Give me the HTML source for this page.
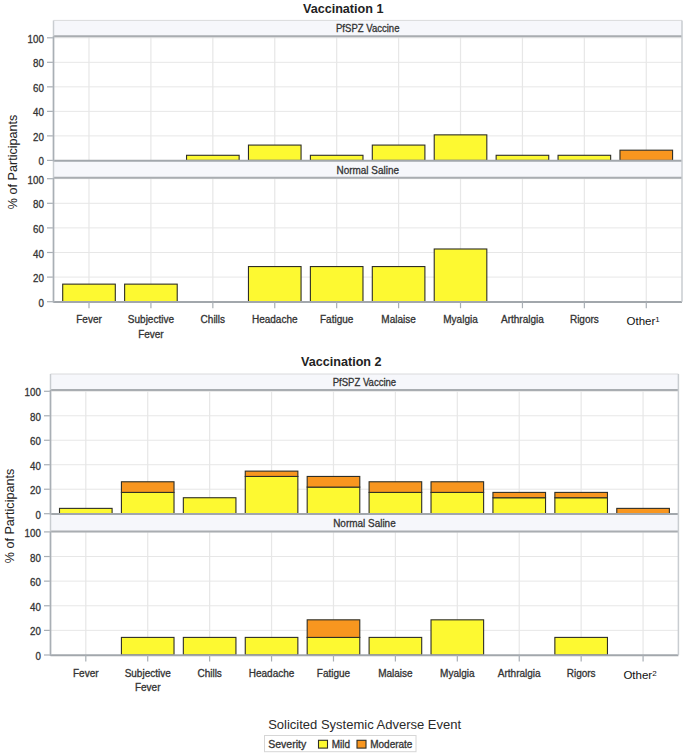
<!DOCTYPE html>
<html><head><meta charset="utf-8"><style>
html,body{margin:0;padding:0;background:#fff;}
body{width:685px;height:756px;overflow:hidden;}
svg{display:block;font-family:"Liberation Sans",sans-serif;}
</style></head><body>
<svg width="685" height="756" viewBox="0 0 685 756">
<rect x="0" y="0" width="685" height="756" fill="#ffffff"/>
<text x="343.20" y="12.60" font-size="13" text-anchor="middle" font-weight="bold" fill="#222" textLength="80.5" lengthAdjust="spacingAndGlyphs">Vaccination 1</text>
<text transform="translate(17.20,161.90) rotate(-90)" x="0" y="0" font-size="12.6" text-anchor="middle" fill="#222">% of Participants</text>
<rect x="53.50" y="20.40" width="628.50" height="15.90" fill="#f6f7fb"/>
<rect x="53.50" y="36.30" width="628.50" height="124.10" fill="#ffffff"/>
<rect x="53.50" y="160.40" width="628.50" height="17.40" fill="#f6f7fb"/>
<rect x="53.50" y="177.80" width="628.50" height="123.90" fill="#ffffff"/>
<text x="367.75" y="32.10" font-size="10.5" text-anchor="middle" font-weight="normal" fill="#333333" stroke="#333333" stroke-width="0.3" textLength="63.5" lengthAdjust="spacingAndGlyphs">PfSPZ Vaccine</text>
<line x1="53.50" y1="135.88" x2="682.00" y2="135.88" stroke="#e7e7e7" stroke-width="1"/>
<line x1="53.50" y1="111.36" x2="682.00" y2="111.36" stroke="#e7e7e7" stroke-width="1"/>
<line x1="53.50" y1="86.84" x2="682.00" y2="86.84" stroke="#e7e7e7" stroke-width="1"/>
<line x1="53.50" y1="62.32" x2="682.00" y2="62.32" stroke="#e7e7e7" stroke-width="1"/>
<line x1="53.50" y1="37.80" x2="682.00" y2="37.80" stroke="#e7e7e7" stroke-width="1"/>
<line x1="89.00" y1="36.30" x2="89.00" y2="160.40" stroke="#e7e7e7" stroke-width="1.2"/>
<line x1="150.92" y1="36.30" x2="150.92" y2="160.40" stroke="#e7e7e7" stroke-width="1.2"/>
<line x1="212.84" y1="36.30" x2="212.84" y2="160.40" stroke="#e7e7e7" stroke-width="1.2"/>
<line x1="274.76" y1="36.30" x2="274.76" y2="160.40" stroke="#e7e7e7" stroke-width="1.2"/>
<line x1="336.68" y1="36.30" x2="336.68" y2="160.40" stroke="#e7e7e7" stroke-width="1.2"/>
<line x1="398.60" y1="36.30" x2="398.60" y2="160.40" stroke="#e7e7e7" stroke-width="1.2"/>
<line x1="460.52" y1="36.30" x2="460.52" y2="160.40" stroke="#e7e7e7" stroke-width="1.2"/>
<line x1="522.44" y1="36.30" x2="522.44" y2="160.40" stroke="#e7e7e7" stroke-width="1.2"/>
<line x1="584.36" y1="36.30" x2="584.36" y2="160.40" stroke="#e7e7e7" stroke-width="1.2"/>
<line x1="646.28" y1="36.30" x2="646.28" y2="160.40" stroke="#e7e7e7" stroke-width="1.2"/>
<rect x="186.54" y="155.29" width="52.60" height="5.11" fill="#fdf931" stroke="#2e2e26" stroke-width="1.1"/>
<rect x="248.46" y="145.08" width="52.60" height="15.32" fill="#fdf931" stroke="#2e2e26" stroke-width="1.1"/>
<rect x="310.38" y="155.29" width="52.60" height="5.11" fill="#fdf931" stroke="#2e2e26" stroke-width="1.1"/>
<rect x="372.30" y="145.08" width="52.60" height="15.32" fill="#fdf931" stroke="#2e2e26" stroke-width="1.1"/>
<rect x="434.22" y="134.86" width="52.60" height="25.54" fill="#fdf931" stroke="#2e2e26" stroke-width="1.1"/>
<rect x="496.14" y="155.29" width="52.60" height="5.11" fill="#fdf931" stroke="#2e2e26" stroke-width="1.1"/>
<rect x="558.06" y="155.29" width="52.60" height="5.11" fill="#fdf931" stroke="#2e2e26" stroke-width="1.1"/>
<rect x="619.98" y="150.18" width="52.60" height="10.22" fill="#f8961f" stroke="#2e2e26" stroke-width="1.1"/>
<text x="367.75" y="173.60" font-size="10.5" text-anchor="middle" font-weight="normal" fill="#333333" stroke="#333333" stroke-width="0.3" textLength="62.5" lengthAdjust="spacingAndGlyphs">Normal Saline</text>
<line x1="53.50" y1="277.10" x2="682.00" y2="277.10" stroke="#e7e7e7" stroke-width="1"/>
<line x1="53.50" y1="252.50" x2="682.00" y2="252.50" stroke="#e7e7e7" stroke-width="1"/>
<line x1="53.50" y1="227.90" x2="682.00" y2="227.90" stroke="#e7e7e7" stroke-width="1"/>
<line x1="53.50" y1="203.30" x2="682.00" y2="203.30" stroke="#e7e7e7" stroke-width="1"/>
<line x1="53.50" y1="178.70" x2="682.00" y2="178.70" stroke="#e7e7e7" stroke-width="1"/>
<line x1="89.00" y1="177.80" x2="89.00" y2="301.70" stroke="#e7e7e7" stroke-width="1.2"/>
<line x1="150.92" y1="177.80" x2="150.92" y2="301.70" stroke="#e7e7e7" stroke-width="1.2"/>
<line x1="212.84" y1="177.80" x2="212.84" y2="301.70" stroke="#e7e7e7" stroke-width="1.2"/>
<line x1="274.76" y1="177.80" x2="274.76" y2="301.70" stroke="#e7e7e7" stroke-width="1.2"/>
<line x1="336.68" y1="177.80" x2="336.68" y2="301.70" stroke="#e7e7e7" stroke-width="1.2"/>
<line x1="398.60" y1="177.80" x2="398.60" y2="301.70" stroke="#e7e7e7" stroke-width="1.2"/>
<line x1="460.52" y1="177.80" x2="460.52" y2="301.70" stroke="#e7e7e7" stroke-width="1.2"/>
<line x1="522.44" y1="177.80" x2="522.44" y2="301.70" stroke="#e7e7e7" stroke-width="1.2"/>
<line x1="584.36" y1="177.80" x2="584.36" y2="301.70" stroke="#e7e7e7" stroke-width="1.2"/>
<line x1="646.28" y1="177.80" x2="646.28" y2="301.70" stroke="#e7e7e7" stroke-width="1.2"/>
<rect x="62.70" y="284.13" width="52.60" height="17.57" fill="#fdf931" stroke="#2e2e26" stroke-width="1.1"/>
<rect x="124.62" y="284.13" width="52.60" height="17.57" fill="#fdf931" stroke="#2e2e26" stroke-width="1.1"/>
<rect x="248.46" y="266.56" width="52.60" height="35.14" fill="#fdf931" stroke="#2e2e26" stroke-width="1.1"/>
<rect x="310.38" y="266.56" width="52.60" height="35.14" fill="#fdf931" stroke="#2e2e26" stroke-width="1.1"/>
<rect x="372.30" y="266.56" width="52.60" height="35.14" fill="#fdf931" stroke="#2e2e26" stroke-width="1.1"/>
<rect x="434.22" y="248.99" width="52.60" height="52.71" fill="#fdf931" stroke="#2e2e26" stroke-width="1.1"/>
<line x1="53.50" y1="20.40" x2="682.00" y2="20.40" stroke="#d9dadc" stroke-width="1"/>
<line x1="53.50" y1="36.30" x2="682.00" y2="36.30" stroke="#a9adb1" stroke-width="2"/>
<line x1="53.50" y1="160.70" x2="682.00" y2="160.70" stroke="#a2a7ac" stroke-width="2"/>
<line x1="47.00" y1="160.40" x2="53.50" y2="160.40" stroke="#a9afb5" stroke-width="1.2"/>
<text transform="translate(43.90,165.40) scale(0.93,1)" font-size="10.5" text-anchor="end" fill="#333" stroke="#333" stroke-width="0.3">0</text>
<line x1="47.00" y1="135.88" x2="53.50" y2="135.88" stroke="#a9afb5" stroke-width="1.2"/>
<text transform="translate(43.90,140.88) scale(0.93,1)" font-size="10.5" text-anchor="end" fill="#333" stroke="#333" stroke-width="0.3">20</text>
<line x1="47.00" y1="111.36" x2="53.50" y2="111.36" stroke="#a9afb5" stroke-width="1.2"/>
<text transform="translate(43.90,116.36) scale(0.93,1)" font-size="10.5" text-anchor="end" fill="#333" stroke="#333" stroke-width="0.3">40</text>
<line x1="47.00" y1="86.84" x2="53.50" y2="86.84" stroke="#a9afb5" stroke-width="1.2"/>
<text transform="translate(43.90,91.84) scale(0.93,1)" font-size="10.5" text-anchor="end" fill="#333" stroke="#333" stroke-width="0.3">60</text>
<line x1="47.00" y1="62.32" x2="53.50" y2="62.32" stroke="#a9afb5" stroke-width="1.2"/>
<text transform="translate(43.90,67.32) scale(0.93,1)" font-size="10.5" text-anchor="end" fill="#333" stroke="#333" stroke-width="0.3">80</text>
<line x1="47.00" y1="37.80" x2="53.50" y2="37.80" stroke="#a9afb5" stroke-width="1.2"/>
<text transform="translate(43.90,42.80) scale(0.93,1)" font-size="10.5" text-anchor="end" fill="#333" stroke="#333" stroke-width="0.3">100</text>
<line x1="53.50" y1="177.80" x2="682.00" y2="177.80" stroke="#a9adb1" stroke-width="2"/>
<line x1="53.50" y1="302.00" x2="682.00" y2="302.00" stroke="#a2a7ac" stroke-width="2"/>
<line x1="47.00" y1="301.70" x2="53.50" y2="301.70" stroke="#a9afb5" stroke-width="1.2"/>
<text transform="translate(43.90,306.70) scale(0.93,1)" font-size="10.5" text-anchor="end" fill="#333" stroke="#333" stroke-width="0.3">0</text>
<line x1="47.00" y1="277.10" x2="53.50" y2="277.10" stroke="#a9afb5" stroke-width="1.2"/>
<text transform="translate(43.90,282.10) scale(0.93,1)" font-size="10.5" text-anchor="end" fill="#333" stroke="#333" stroke-width="0.3">20</text>
<line x1="47.00" y1="252.50" x2="53.50" y2="252.50" stroke="#a9afb5" stroke-width="1.2"/>
<text transform="translate(43.90,257.50) scale(0.93,1)" font-size="10.5" text-anchor="end" fill="#333" stroke="#333" stroke-width="0.3">40</text>
<line x1="47.00" y1="227.90" x2="53.50" y2="227.90" stroke="#a9afb5" stroke-width="1.2"/>
<text transform="translate(43.90,232.90) scale(0.93,1)" font-size="10.5" text-anchor="end" fill="#333" stroke="#333" stroke-width="0.3">60</text>
<line x1="47.00" y1="203.30" x2="53.50" y2="203.30" stroke="#a9afb5" stroke-width="1.2"/>
<text transform="translate(43.90,208.30) scale(0.93,1)" font-size="10.5" text-anchor="end" fill="#333" stroke="#333" stroke-width="0.3">80</text>
<line x1="47.00" y1="178.70" x2="53.50" y2="178.70" stroke="#a9afb5" stroke-width="1.2"/>
<text transform="translate(43.90,183.70) scale(0.93,1)" font-size="10.5" text-anchor="end" fill="#333" stroke="#333" stroke-width="0.3">100</text>
<line x1="53.50" y1="20.40" x2="53.50" y2="301.70" stroke="#c9cdd1" stroke-width="1.5"/>
<line x1="53.50" y1="36.30" x2="53.50" y2="161.40" stroke="#a9afb5" stroke-width="1.5"/>
<line x1="53.50" y1="177.80" x2="53.50" y2="302.70" stroke="#a9afb5" stroke-width="1.5"/>
<line x1="682.00" y1="20.40" x2="682.00" y2="301.70" stroke="#c9cdd1" stroke-width="1.5"/>
<line x1="89.00" y1="301.70" x2="89.00" y2="308.20" stroke="#a9afb5" stroke-width="1.2"/>
<text x="89.00" y="323.20" font-size="10" text-anchor="middle" font-weight="normal" fill="#333333" stroke="#333333" stroke-width="0.3" >Fever</text>
<line x1="150.92" y1="301.70" x2="150.92" y2="308.20" stroke="#a9afb5" stroke-width="1.2"/>
<text x="150.92" y="323.20" font-size="10" text-anchor="middle" font-weight="normal" fill="#333333" stroke="#333333" stroke-width="0.3" >Subjective</text>
<text x="150.92" y="337.70" font-size="10" text-anchor="middle" font-weight="normal" fill="#333333" stroke="#333333" stroke-width="0.3" >Fever</text>
<line x1="212.84" y1="301.70" x2="212.84" y2="308.20" stroke="#a9afb5" stroke-width="1.2"/>
<text x="212.84" y="323.20" font-size="10" text-anchor="middle" font-weight="normal" fill="#333333" stroke="#333333" stroke-width="0.3" >Chills</text>
<line x1="274.76" y1="301.70" x2="274.76" y2="308.20" stroke="#a9afb5" stroke-width="1.2"/>
<text x="274.76" y="323.20" font-size="10" text-anchor="middle" font-weight="normal" fill="#333333" stroke="#333333" stroke-width="0.3" >Headache</text>
<line x1="336.68" y1="301.70" x2="336.68" y2="308.20" stroke="#a9afb5" stroke-width="1.2"/>
<text x="336.68" y="323.20" font-size="10" text-anchor="middle" font-weight="normal" fill="#333333" stroke="#333333" stroke-width="0.3" >Fatigue</text>
<line x1="398.60" y1="301.70" x2="398.60" y2="308.20" stroke="#a9afb5" stroke-width="1.2"/>
<text x="398.60" y="323.20" font-size="10" text-anchor="middle" font-weight="normal" fill="#333333" stroke="#333333" stroke-width="0.3" >Malaise</text>
<line x1="460.52" y1="301.70" x2="460.52" y2="308.20" stroke="#a9afb5" stroke-width="1.2"/>
<text x="460.52" y="323.20" font-size="10" text-anchor="middle" font-weight="normal" fill="#333333" stroke="#333333" stroke-width="0.3" >Myalgia</text>
<line x1="522.44" y1="301.70" x2="522.44" y2="308.20" stroke="#a9afb5" stroke-width="1.2"/>
<text x="522.44" y="323.20" font-size="10" text-anchor="middle" font-weight="normal" fill="#333333" stroke="#333333" stroke-width="0.3" >Arthralgia</text>
<line x1="584.36" y1="301.70" x2="584.36" y2="308.20" stroke="#a9afb5" stroke-width="1.2"/>
<text x="584.36" y="323.20" font-size="10" text-anchor="middle" font-weight="normal" fill="#333333" stroke="#333333" stroke-width="0.3" >Rigors</text>
<line x1="646.28" y1="301.70" x2="646.28" y2="308.20" stroke="#a9afb5" stroke-width="1.2"/>
<text x="626.50" y="324.70" font-size="11.5" fill="#111">Other<tspan font-size="8" dy="-3.1">1</tspan></text>
<text x="341.30" y="366.20" font-size="13" text-anchor="middle" font-weight="bold" fill="#222" textLength="80.5" lengthAdjust="spacingAndGlyphs">Vaccination 2</text>
<text transform="translate(14.20,516.00) rotate(-90)" x="0" y="0" font-size="12.6" text-anchor="middle" fill="#222">% of Participants</text>
<rect x="50.50" y="374.00" width="627.90" height="16.00" fill="#f6f7fb"/>
<rect x="50.50" y="390.00" width="627.90" height="123.70" fill="#ffffff"/>
<rect x="50.50" y="513.70" width="627.90" height="17.70" fill="#f6f7fb"/>
<rect x="50.50" y="531.40" width="627.90" height="123.60" fill="#ffffff"/>
<text x="364.45" y="385.80" font-size="10.5" text-anchor="middle" font-weight="normal" fill="#333333" stroke="#333333" stroke-width="0.3" textLength="63.5" lengthAdjust="spacingAndGlyphs">PfSPZ Vaccine</text>
<line x1="50.50" y1="489.22" x2="678.40" y2="489.22" stroke="#e7e7e7" stroke-width="1"/>
<line x1="50.50" y1="464.74" x2="678.40" y2="464.74" stroke="#e7e7e7" stroke-width="1"/>
<line x1="50.50" y1="440.26" x2="678.40" y2="440.26" stroke="#e7e7e7" stroke-width="1"/>
<line x1="50.50" y1="415.78" x2="678.40" y2="415.78" stroke="#e7e7e7" stroke-width="1"/>
<line x1="50.50" y1="391.30" x2="678.40" y2="391.30" stroke="#e7e7e7" stroke-width="1"/>
<line x1="85.80" y1="390.00" x2="85.80" y2="513.70" stroke="#e7e7e7" stroke-width="1.2"/>
<line x1="147.72" y1="390.00" x2="147.72" y2="513.70" stroke="#e7e7e7" stroke-width="1.2"/>
<line x1="209.64" y1="390.00" x2="209.64" y2="513.70" stroke="#e7e7e7" stroke-width="1.2"/>
<line x1="271.56" y1="390.00" x2="271.56" y2="513.70" stroke="#e7e7e7" stroke-width="1.2"/>
<line x1="333.48" y1="390.00" x2="333.48" y2="513.70" stroke="#e7e7e7" stroke-width="1.2"/>
<line x1="395.40" y1="390.00" x2="395.40" y2="513.70" stroke="#e7e7e7" stroke-width="1.2"/>
<line x1="457.32" y1="390.00" x2="457.32" y2="513.70" stroke="#e7e7e7" stroke-width="1.2"/>
<line x1="519.24" y1="390.00" x2="519.24" y2="513.70" stroke="#e7e7e7" stroke-width="1.2"/>
<line x1="581.16" y1="390.00" x2="581.16" y2="513.70" stroke="#e7e7e7" stroke-width="1.2"/>
<line x1="643.08" y1="390.00" x2="643.08" y2="513.70" stroke="#e7e7e7" stroke-width="1.2"/>
<rect x="59.50" y="508.38" width="52.60" height="5.32" fill="#fdf931" stroke="#2e2e26" stroke-width="1.1"/>
<rect x="121.42" y="492.41" width="52.60" height="21.29" fill="#fdf931" stroke="#2e2e26" stroke-width="1.1"/>
<rect x="121.42" y="481.77" width="52.60" height="10.64" fill="#f8961f" stroke="#2e2e26" stroke-width="1.1"/>
<rect x="183.34" y="497.73" width="52.60" height="15.97" fill="#fdf931" stroke="#2e2e26" stroke-width="1.1"/>
<rect x="245.26" y="476.45" width="52.60" height="37.25" fill="#fdf931" stroke="#2e2e26" stroke-width="1.1"/>
<rect x="245.26" y="471.13" width="52.60" height="5.32" fill="#f8961f" stroke="#2e2e26" stroke-width="1.1"/>
<rect x="307.18" y="487.09" width="52.60" height="26.61" fill="#fdf931" stroke="#2e2e26" stroke-width="1.1"/>
<rect x="307.18" y="476.45" width="52.60" height="10.64" fill="#f8961f" stroke="#2e2e26" stroke-width="1.1"/>
<rect x="369.10" y="492.41" width="52.60" height="21.29" fill="#fdf931" stroke="#2e2e26" stroke-width="1.1"/>
<rect x="369.10" y="481.77" width="52.60" height="10.64" fill="#f8961f" stroke="#2e2e26" stroke-width="1.1"/>
<rect x="431.02" y="492.41" width="52.60" height="21.29" fill="#fdf931" stroke="#2e2e26" stroke-width="1.1"/>
<rect x="431.02" y="481.77" width="52.60" height="10.64" fill="#f8961f" stroke="#2e2e26" stroke-width="1.1"/>
<rect x="492.94" y="497.73" width="52.60" height="15.97" fill="#fdf931" stroke="#2e2e26" stroke-width="1.1"/>
<rect x="492.94" y="492.41" width="52.60" height="5.32" fill="#f8961f" stroke="#2e2e26" stroke-width="1.1"/>
<rect x="554.86" y="497.73" width="52.60" height="15.97" fill="#fdf931" stroke="#2e2e26" stroke-width="1.1"/>
<rect x="554.86" y="492.41" width="52.60" height="5.32" fill="#f8961f" stroke="#2e2e26" stroke-width="1.1"/>
<rect x="616.78" y="508.38" width="52.60" height="5.32" fill="#f8961f" stroke="#2e2e26" stroke-width="1.1"/>
<text x="364.45" y="527.20" font-size="10.5" text-anchor="middle" font-weight="normal" fill="#333333" stroke="#333333" stroke-width="0.3" textLength="62.5" lengthAdjust="spacingAndGlyphs">Normal Saline</text>
<line x1="50.50" y1="630.38" x2="678.40" y2="630.38" stroke="#e7e7e7" stroke-width="1"/>
<line x1="50.50" y1="605.76" x2="678.40" y2="605.76" stroke="#e7e7e7" stroke-width="1"/>
<line x1="50.50" y1="581.14" x2="678.40" y2="581.14" stroke="#e7e7e7" stroke-width="1"/>
<line x1="50.50" y1="556.52" x2="678.40" y2="556.52" stroke="#e7e7e7" stroke-width="1"/>
<line x1="50.50" y1="531.90" x2="678.40" y2="531.90" stroke="#e7e7e7" stroke-width="1"/>
<line x1="85.80" y1="531.40" x2="85.80" y2="655.00" stroke="#e7e7e7" stroke-width="1.2"/>
<line x1="147.72" y1="531.40" x2="147.72" y2="655.00" stroke="#e7e7e7" stroke-width="1.2"/>
<line x1="209.64" y1="531.40" x2="209.64" y2="655.00" stroke="#e7e7e7" stroke-width="1.2"/>
<line x1="271.56" y1="531.40" x2="271.56" y2="655.00" stroke="#e7e7e7" stroke-width="1.2"/>
<line x1="333.48" y1="531.40" x2="333.48" y2="655.00" stroke="#e7e7e7" stroke-width="1.2"/>
<line x1="395.40" y1="531.40" x2="395.40" y2="655.00" stroke="#e7e7e7" stroke-width="1.2"/>
<line x1="457.32" y1="531.40" x2="457.32" y2="655.00" stroke="#e7e7e7" stroke-width="1.2"/>
<line x1="519.24" y1="531.40" x2="519.24" y2="655.00" stroke="#e7e7e7" stroke-width="1.2"/>
<line x1="581.16" y1="531.40" x2="581.16" y2="655.00" stroke="#e7e7e7" stroke-width="1.2"/>
<line x1="643.08" y1="531.40" x2="643.08" y2="655.00" stroke="#e7e7e7" stroke-width="1.2"/>
<rect x="121.42" y="637.41" width="52.60" height="17.59" fill="#fdf931" stroke="#2e2e26" stroke-width="1.1"/>
<rect x="183.34" y="637.41" width="52.60" height="17.59" fill="#fdf931" stroke="#2e2e26" stroke-width="1.1"/>
<rect x="245.26" y="637.41" width="52.60" height="17.59" fill="#fdf931" stroke="#2e2e26" stroke-width="1.1"/>
<rect x="307.18" y="637.41" width="52.60" height="17.59" fill="#fdf931" stroke="#2e2e26" stroke-width="1.1"/>
<rect x="307.18" y="619.83" width="52.60" height="17.59" fill="#f8961f" stroke="#2e2e26" stroke-width="1.1"/>
<rect x="369.10" y="637.41" width="52.60" height="17.59" fill="#fdf931" stroke="#2e2e26" stroke-width="1.1"/>
<rect x="431.02" y="619.83" width="52.60" height="35.17" fill="#fdf931" stroke="#2e2e26" stroke-width="1.1"/>
<rect x="554.86" y="637.41" width="52.60" height="17.59" fill="#fdf931" stroke="#2e2e26" stroke-width="1.1"/>
<line x1="50.50" y1="374.00" x2="678.40" y2="374.00" stroke="#d9dadc" stroke-width="1"/>
<line x1="50.50" y1="390.00" x2="678.40" y2="390.00" stroke="#a9adb1" stroke-width="2"/>
<line x1="50.50" y1="514.00" x2="678.40" y2="514.00" stroke="#a2a7ac" stroke-width="2"/>
<line x1="44.00" y1="513.70" x2="50.50" y2="513.70" stroke="#a9afb5" stroke-width="1.2"/>
<text transform="translate(40.90,518.70) scale(0.93,1)" font-size="10.5" text-anchor="end" fill="#333" stroke="#333" stroke-width="0.3">0</text>
<line x1="44.00" y1="489.22" x2="50.50" y2="489.22" stroke="#a9afb5" stroke-width="1.2"/>
<text transform="translate(40.90,494.22) scale(0.93,1)" font-size="10.5" text-anchor="end" fill="#333" stroke="#333" stroke-width="0.3">20</text>
<line x1="44.00" y1="464.74" x2="50.50" y2="464.74" stroke="#a9afb5" stroke-width="1.2"/>
<text transform="translate(40.90,469.74) scale(0.93,1)" font-size="10.5" text-anchor="end" fill="#333" stroke="#333" stroke-width="0.3">40</text>
<line x1="44.00" y1="440.26" x2="50.50" y2="440.26" stroke="#a9afb5" stroke-width="1.2"/>
<text transform="translate(40.90,445.26) scale(0.93,1)" font-size="10.5" text-anchor="end" fill="#333" stroke="#333" stroke-width="0.3">60</text>
<line x1="44.00" y1="415.78" x2="50.50" y2="415.78" stroke="#a9afb5" stroke-width="1.2"/>
<text transform="translate(40.90,420.78) scale(0.93,1)" font-size="10.5" text-anchor="end" fill="#333" stroke="#333" stroke-width="0.3">80</text>
<line x1="44.00" y1="391.30" x2="50.50" y2="391.30" stroke="#a9afb5" stroke-width="1.2"/>
<text transform="translate(40.90,396.30) scale(0.93,1)" font-size="10.5" text-anchor="end" fill="#333" stroke="#333" stroke-width="0.3">100</text>
<line x1="50.50" y1="531.40" x2="678.40" y2="531.40" stroke="#a9adb1" stroke-width="2"/>
<line x1="50.50" y1="655.30" x2="678.40" y2="655.30" stroke="#a2a7ac" stroke-width="2"/>
<line x1="44.00" y1="655.00" x2="50.50" y2="655.00" stroke="#a9afb5" stroke-width="1.2"/>
<text transform="translate(40.90,660.00) scale(0.93,1)" font-size="10.5" text-anchor="end" fill="#333" stroke="#333" stroke-width="0.3">0</text>
<line x1="44.00" y1="630.38" x2="50.50" y2="630.38" stroke="#a9afb5" stroke-width="1.2"/>
<text transform="translate(40.90,635.38) scale(0.93,1)" font-size="10.5" text-anchor="end" fill="#333" stroke="#333" stroke-width="0.3">20</text>
<line x1="44.00" y1="605.76" x2="50.50" y2="605.76" stroke="#a9afb5" stroke-width="1.2"/>
<text transform="translate(40.90,610.76) scale(0.93,1)" font-size="10.5" text-anchor="end" fill="#333" stroke="#333" stroke-width="0.3">40</text>
<line x1="44.00" y1="581.14" x2="50.50" y2="581.14" stroke="#a9afb5" stroke-width="1.2"/>
<text transform="translate(40.90,586.14) scale(0.93,1)" font-size="10.5" text-anchor="end" fill="#333" stroke="#333" stroke-width="0.3">60</text>
<line x1="44.00" y1="556.52" x2="50.50" y2="556.52" stroke="#a9afb5" stroke-width="1.2"/>
<text transform="translate(40.90,561.52) scale(0.93,1)" font-size="10.5" text-anchor="end" fill="#333" stroke="#333" stroke-width="0.3">80</text>
<line x1="44.00" y1="531.90" x2="50.50" y2="531.90" stroke="#a9afb5" stroke-width="1.2"/>
<text transform="translate(40.90,536.90) scale(0.93,1)" font-size="10.5" text-anchor="end" fill="#333" stroke="#333" stroke-width="0.3">100</text>
<line x1="50.50" y1="374.00" x2="50.50" y2="655.00" stroke="#c9cdd1" stroke-width="1.5"/>
<line x1="50.50" y1="390.00" x2="50.50" y2="514.70" stroke="#a9afb5" stroke-width="1.5"/>
<line x1="50.50" y1="531.40" x2="50.50" y2="656.00" stroke="#a9afb5" stroke-width="1.5"/>
<line x1="678.40" y1="374.00" x2="678.40" y2="655.00" stroke="#c9cdd1" stroke-width="1.5"/>
<line x1="85.80" y1="655.00" x2="85.80" y2="661.50" stroke="#a9afb5" stroke-width="1.2"/>
<text x="85.80" y="676.80" font-size="10" text-anchor="middle" font-weight="normal" fill="#333333" stroke="#333333" stroke-width="0.3" >Fever</text>
<line x1="147.72" y1="655.00" x2="147.72" y2="661.50" stroke="#a9afb5" stroke-width="1.2"/>
<text x="147.72" y="676.80" font-size="10" text-anchor="middle" font-weight="normal" fill="#333333" stroke="#333333" stroke-width="0.3" >Subjective</text>
<text x="147.72" y="691.00" font-size="10" text-anchor="middle" font-weight="normal" fill="#333333" stroke="#333333" stroke-width="0.3" >Fever</text>
<line x1="209.64" y1="655.00" x2="209.64" y2="661.50" stroke="#a9afb5" stroke-width="1.2"/>
<text x="209.64" y="676.80" font-size="10" text-anchor="middle" font-weight="normal" fill="#333333" stroke="#333333" stroke-width="0.3" >Chills</text>
<line x1="271.56" y1="655.00" x2="271.56" y2="661.50" stroke="#a9afb5" stroke-width="1.2"/>
<text x="271.56" y="676.80" font-size="10" text-anchor="middle" font-weight="normal" fill="#333333" stroke="#333333" stroke-width="0.3" >Headache</text>
<line x1="333.48" y1="655.00" x2="333.48" y2="661.50" stroke="#a9afb5" stroke-width="1.2"/>
<text x="333.48" y="676.80" font-size="10" text-anchor="middle" font-weight="normal" fill="#333333" stroke="#333333" stroke-width="0.3" >Fatigue</text>
<line x1="395.40" y1="655.00" x2="395.40" y2="661.50" stroke="#a9afb5" stroke-width="1.2"/>
<text x="395.40" y="676.80" font-size="10" text-anchor="middle" font-weight="normal" fill="#333333" stroke="#333333" stroke-width="0.3" >Malaise</text>
<line x1="457.32" y1="655.00" x2="457.32" y2="661.50" stroke="#a9afb5" stroke-width="1.2"/>
<text x="457.32" y="676.80" font-size="10" text-anchor="middle" font-weight="normal" fill="#333333" stroke="#333333" stroke-width="0.3" >Myalgia</text>
<line x1="519.24" y1="655.00" x2="519.24" y2="661.50" stroke="#a9afb5" stroke-width="1.2"/>
<text x="519.24" y="676.80" font-size="10" text-anchor="middle" font-weight="normal" fill="#333333" stroke="#333333" stroke-width="0.3" >Arthralgia</text>
<line x1="581.16" y1="655.00" x2="581.16" y2="661.50" stroke="#a9afb5" stroke-width="1.2"/>
<text x="581.16" y="676.80" font-size="10" text-anchor="middle" font-weight="normal" fill="#333333" stroke="#333333" stroke-width="0.3" >Rigors</text>
<line x1="643.08" y1="655.00" x2="643.08" y2="661.50" stroke="#a9afb5" stroke-width="1.2"/>
<text x="623.40" y="678.70" font-size="11.5" fill="#111">Other<tspan font-size="8" dy="-3.1">2</tspan></text>
<text x="268.2" y="728.7" font-size="13" fill="#2a2a2a">Solicited Systemic Adverse Event</text>
<rect x="264.50" y="735.50" width="151.50" height="16.20" fill="#ffffff" stroke="#d6d6d6" stroke-width="1"/>
<text x="268.20" y="747.60" font-size="10" text-anchor="start" font-weight="normal" fill="#333333" stroke="#333333" stroke-width="0.3" textLength="38" lengthAdjust="spacingAndGlyphs">Severity</text>
<rect x="318.50" y="740.30" width="9.00" height="7.80" fill="#fdf931" stroke="#2e2e26" stroke-width="1.1"/>
<text x="331.70" y="747.60" font-size="10" text-anchor="start" font-weight="normal" fill="#333333" stroke="#333333" stroke-width="0.3" >Mild</text>
<rect x="357.00" y="740.30" width="9.00" height="7.80" fill="#f8961f" stroke="#2e2e26" stroke-width="1.1"/>
<text x="370.20" y="747.60" font-size="10" text-anchor="start" font-weight="normal" fill="#333333" stroke="#333333" stroke-width="0.3" >Moderate</text>
</svg>
</body></html>
